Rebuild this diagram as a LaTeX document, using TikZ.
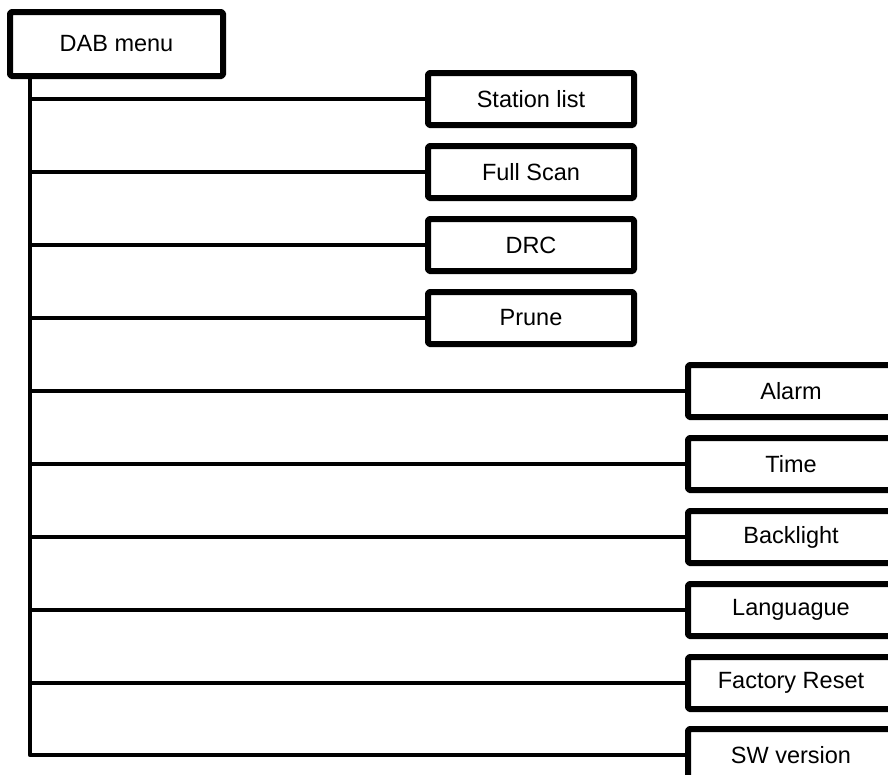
\documentclass[tikz,border=0pt]{standalone}
\usepackage{fontspec}
\setmainfont{Liberation Sans}
\usepackage{tikz}
\usetikzlibrary{positioning}

\begin{document}
\begin{tikzpicture}[x=1pt, y=-1pt,
    menubox/.style={draw, line width=6pt, line join=round, rounded corners=1.5pt,
        minimum width=206pt, minimum height=52pt, inner sep=0pt,
        font=\fontsize{23.5}{28}\selectfont},
    wire/.style={line width=4.5pt}]
    \useasboundingbox (0,0) rectangle (888,774);
    \clip (0,0) rectangle (888,774);

    % Root menu
    \node[menubox, minimum width=213pt, minimum height=64pt] (dab) at (116.5,44) {DAB menu};
    \coordinate (spine) at (30,79);

    % Short branches
    \node[menubox] (stations) at (531,99) {Station list};
    \node[menubox] (scan) at (531,172) {Full Scan};
    \node[menubox] (drc) at (531,245) {DRC};
    \node[menubox] (prune) at (531,318) {Prune};

    % Long branches
    \node[menubox] (alarm) at (791,391) {Alarm};
    \node[menubox] (time) at (791,464) {Time};
    \node[menubox] (backlight) at (791,537) {Backlight};
    \node[menubox] (language) at (791,610) {Languague};
    \node[menubox] (reset) at (791,683) {Factory Reset};
    \node[menubox] (version) at (791,755) {SW version};

    % Spine down to the last entry
    \draw[wire, line join=round] (dab.south -| spine) |- (version.west);

    % Connectors
    \foreach \n in {stations,scan,drc,prune,alarm,time,backlight,language,reset}
        \draw[wire] (spine |- \n.west) -- (\n.west);
\end{tikzpicture}
\end{document}
